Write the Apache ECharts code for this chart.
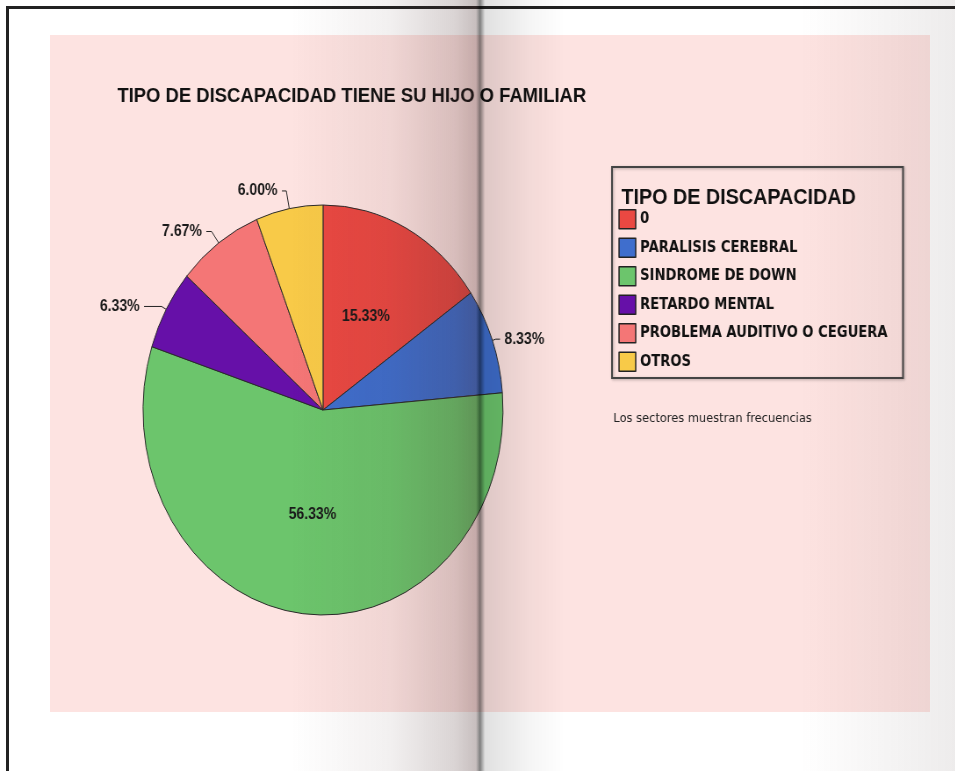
<!DOCTYPE html>
<html><head><meta charset="utf-8">
<script src="https://cdn.jsdelivr.net/npm/echarts@6/dist/echarts.min.js"></script>
<style>
html,body{margin:0;padding:0;width:955px;height:771px;overflow:hidden;background:#fff;}
#page{position:absolute;left:0;top:0;width:955px;height:771px;background:#fff;}
#frameTop{position:absolute;left:6px;top:6px;width:949px;height:3px;background:#222;}
#frameLeft{position:absolute;left:6px;top:6px;width:3px;height:765px;background:#222;}
#panel{position:absolute;left:50px;top:35px;width:880px;height:677px;background:#fde3e1;}
#c{position:absolute;left:0;top:0;width:1087.7px;height:771px;transform:scaleX(0.878);transform-origin:0 0;}
#shade{position:absolute;left:0;top:0;width:955px;height:771px;pointer-events:none;
background:linear-gradient(to right, rgba(0,0,0,0) 0px, rgba(0,0,0,0) 290px, rgba(70,40,40,0.07) 390px, rgba(70,40,40,0.2) 455px, rgba(70,40,40,0.3) 476px, rgba(0,0,0,0.5) 480px, rgba(0,0,0,0.12) 485px, rgba(0,0,0,0.1) 495px, rgba(0,0,0,0.04) 530px, rgba(0,0,0,0) 565px, rgba(0,0,0,0) 800px, rgba(60,40,40,0.09) 955px);}
</style></head>
<body>
<div id="page"><div id="panel"></div><div id="frameTop"></div><div id="frameLeft"></div></div>
<div id="c"></div>
<div id="shade"></div>
<script>
const categories = ['0', 'PARALISIS CEREBRAL', 'SINDROME DE DOWN', 'RETARDO MENTAL', 'PROBLEMA AUDITIVO O CEGUERA', 'OTROS'];
const values = [15.33, 8.33, 56.33, 6.33, 7.67, 6.00];
const colors = ['#ea4842', '#3f6ecd', '#6cc56c', '#6610a8', '#f47676', '#f8ca48'];
const insideLabels = ['0', 'SINDROME DE DOWN'];
const chartTitle = 'TIPO DE DISCAPACIDAD TIENE SU HIJO O FAMILIAR';
const legendTitle = 'TIPO DE DISCAPACIDAD';
const note = 'Los sectores muestran frecuencias';

// leader line lengths per slice (style only): [length, length2]
const leader = [[0, 0], [4, 5], [0, 0], [6, 20], [14, 6], [18, 5]];

const S = 0.878;
const X = v => v / S;

const chart = echarts.init(document.getElementById('c'), null, {renderer: 'canvas'});
const data = categories.map((name, i) => {
  const inside = insideLabels.includes(name);
  return {
    name: name,
    value: values[i],
    itemStyle: {color: colors[i]},
    label: {position: inside ? 'inside' : 'outside'},
    labelLine: {show: !inside, length: leader[i][0], length2: leader[i][1]}
  };
});

chart.setOption({
  backgroundColor: 'transparent',
  animation: false,
  title: [
    {text: chartTitle, left: X(113), top: 81,
     textStyle: {fontFamily: 'Liberation Sans', fontWeight: 'bold', fontSize: 21, color: '#111'}},
    {text: legendTitle, left: X(617), top: 181,
     textStyle: {fontFamily: 'Liberation Sans', fontWeight: 'bold', fontSize: 22.5, color: '#111'}},
    {text: note, left: X(609), top: 407,
     textStyle: {fontFamily: 'DejaVu Sans', fontWeight: 'normal', fontSize: 13, color: '#222'}}
  ],
  graphic: [
    {type: 'rect', z: -1, shape: {x: X(612), y: 167, width: X(903) - X(612), height: 211},
     style: {fill: 'rgba(0,0,0,0)', stroke: '#444', lineWidth: 2, shadowColor: 'rgba(0,0,0,0.3)', shadowBlur: 3, shadowOffsetX: 1, shadowOffsetY: 1}}
  ],
  legend: {
    orient: 'vertical',
    left: X(614),
    top: 204,
    itemWidth: 19,
    itemHeight: 19,
    itemGap: 8,
    icon: 'rect',
    itemStyle: {borderColor: '#222', borderWidth: 1.5},
    textStyle: {fontFamily: 'DejaVu Sans', fontWeight: 'bold', fontSize: 15, color: '#111'},
    data: categories
  },
  series: [{
    type: 'pie',
    center: [X(323), 410],
    radius: 205,
    startAngle: 90,
    clockwise: true,
    data: data,
    itemStyle: {borderColor: '#2a2a2a', borderWidth: 1},
    label: {
      formatter: p => p.value.toFixed(2) + '%',
      fontFamily: 'Liberation Sans', fontWeight: 'bold', fontSize: 16, color: '#1a1a1a'
    },
    labelLine: {lineStyle: {color: '#222', width: 1}},
    emphasis: {disabled: true}
  }]
});
</script>
</body></html>
